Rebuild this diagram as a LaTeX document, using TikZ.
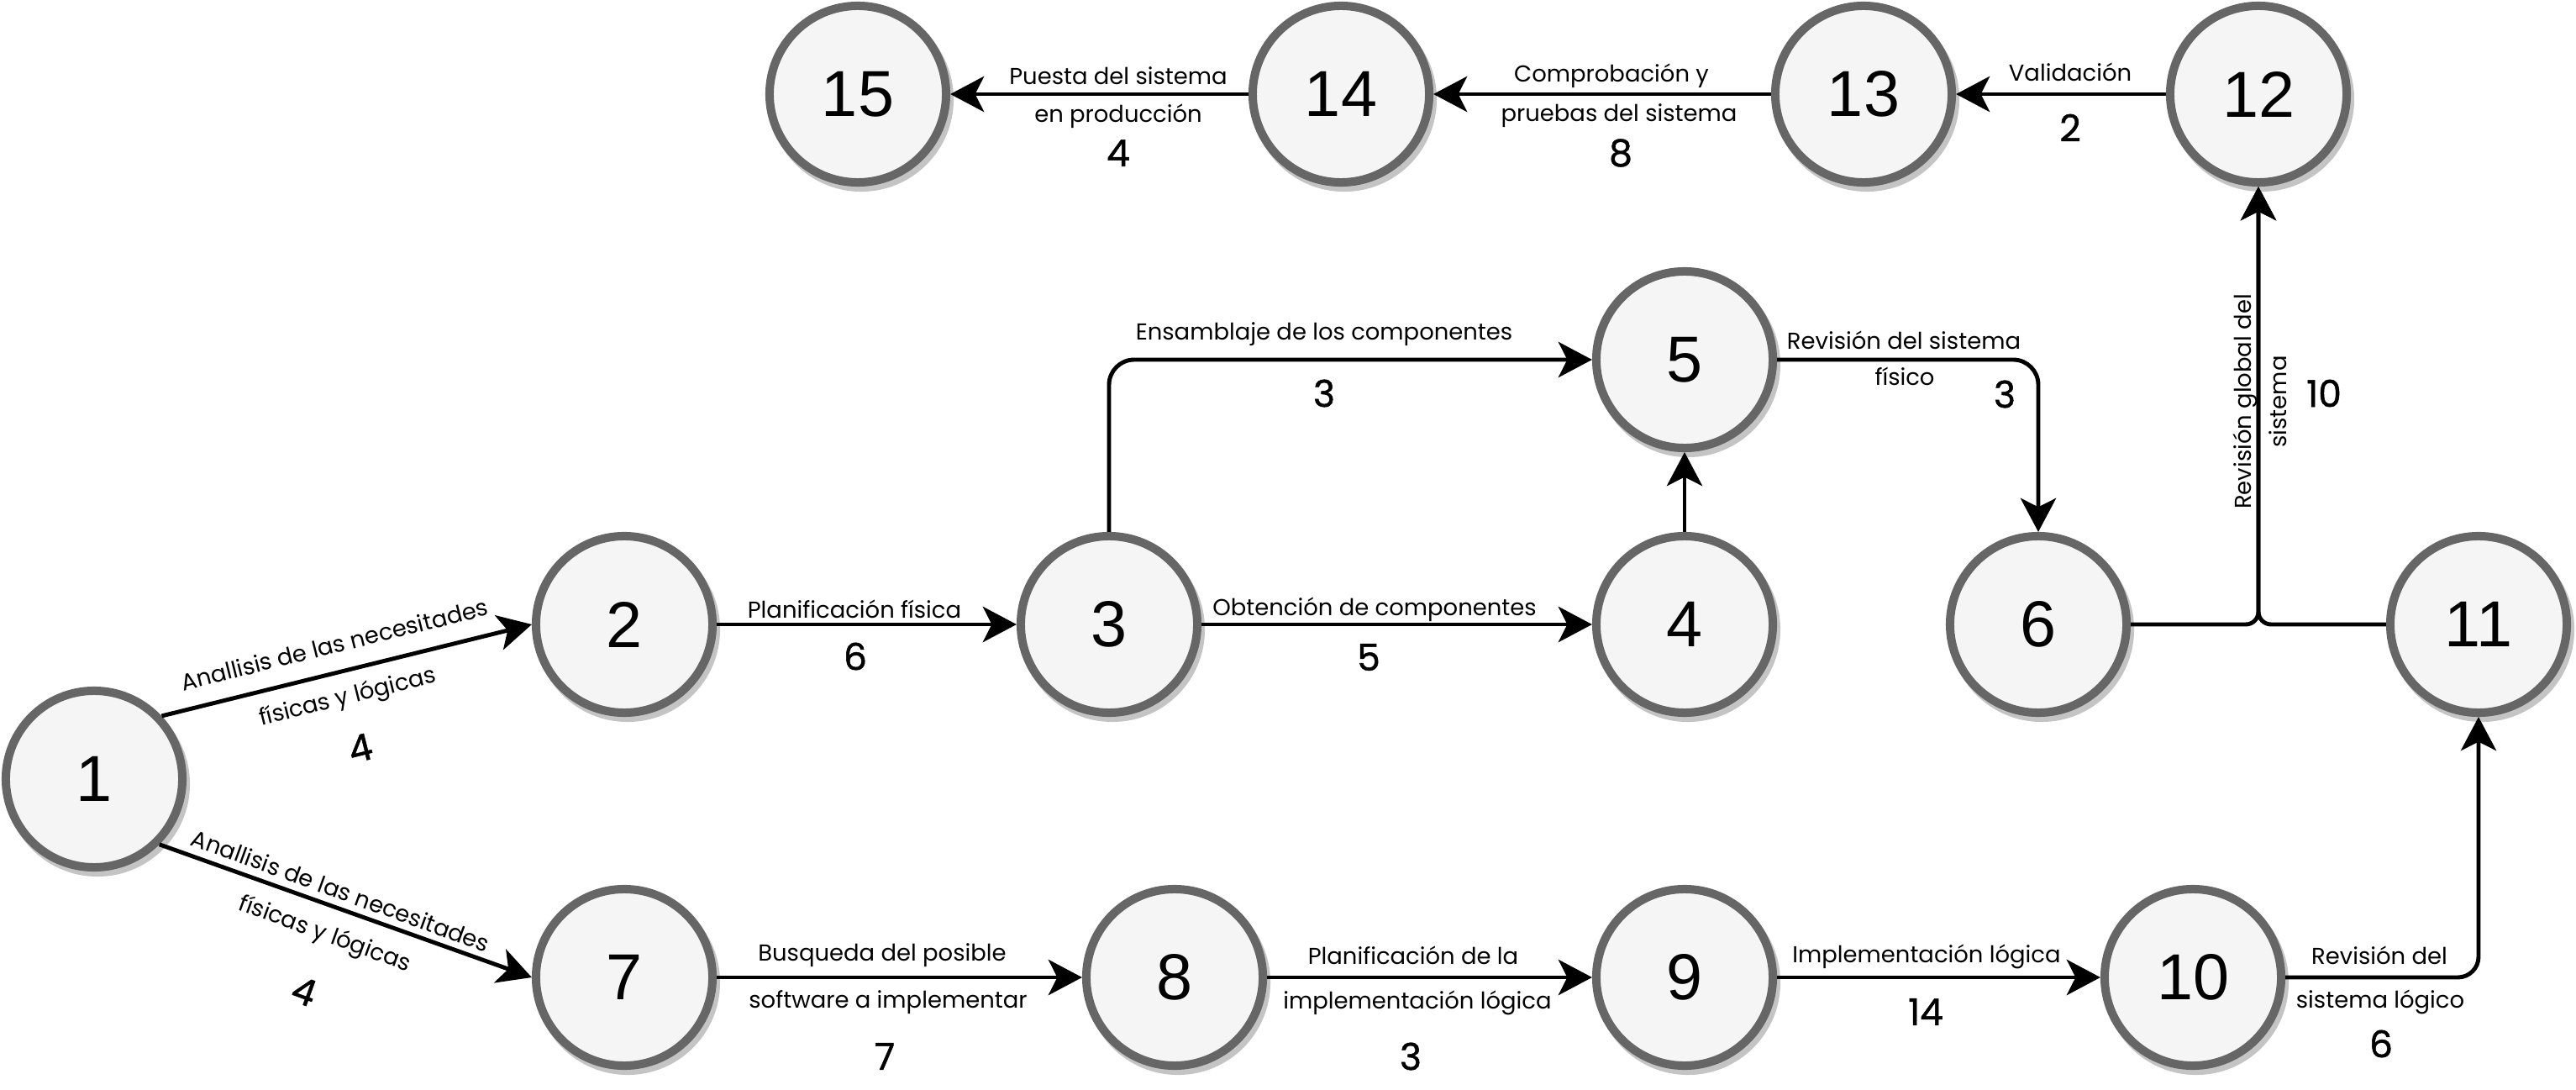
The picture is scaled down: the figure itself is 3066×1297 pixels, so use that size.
\documentclass[tikz,border=0pt]{standalone}
\usepackage{fontspec}
\setmainfont{Liberation Sans}
\newfontfamily\lblfont{Poppins}
\newfontfamily\wfont{Poppins}[FakeBold=1.2]
\usetikzlibrary{arrows.meta}
\definecolor{nodefill}{HTML}{F5F5F5}
\definecolor{nodestroke}{HTML}{666666}
\definecolor{shadowc}{HTML}{C4C4C4}
\newcommand{\wnum}[1]{{\wfont\fontsize{12.5}{14}\selectfont #1}}
\tikzset{
  state/.style={circle, draw=nodestroke, fill=nodefill, line width=2.85pt,
    minimum size=2.1cm, inner sep=0pt, font=\fontsize{22}{26}\selectfont},
  edge/.style={draw=black, line width=1.4pt,
    -{Stealth[length=11.4pt, width=12pt, inset=3pt]}},
  lbl/.style={inner sep=0pt, font=\lblfont\fontsize{7.8}{9}\selectfont},
  wt/.style={inner sep=0pt, font=\wfont\fontsize{12.5}{14}\selectfont},
}
\begin{document}
\begin{tikzpicture}[x=0.01cm, y=-0.01cm]
\useasboundingbox (0,0) rectangle (3066,1297);
% nodes with shadows
\foreach \nm/\px/\py in {1/112/927, 2/743/743, 3/1320/743, 4/2005/743,
    5/2005/428, 6/2426/743, 7/743/1163, 8/1398/1163, 9/2005/1163,
    10/2610/1163, 11/2950/743, 12/2688/112, 13/2218/112, 14/1596/112,
    15/1021/112}{
  \fill[shadowc] (\px+4,\py+6) circle (1.1cm);
  \node[state] (n\nm) at (\px,\py) {\nm};
}
% connectors
\draw[edge] (n1.43) -- (n2.west);
\draw[edge] (n1.-45) -- (n7.west);
\draw[edge] (n2.east) -- (n3.west);
\draw[edge] (n3.east) -- (n4.west);
\draw[edge, rounded corners=8.5pt] (n3.north) |- (n5.west);
\draw[edge] (n4.north) -- (n5.south);
\draw[edge, rounded corners=8.5pt] (n5.east) -| (n6.north);
\draw[edge, rounded corners=4.3pt] (n6.east) -| (n12.south);
\draw[edge, rounded corners=4.3pt] (n11.west) -| (n12.south);
\draw[edge] (n7.east) -- (n8.west);
\draw[edge] (n8.east) -- (n9.west);
\draw[edge] (n9.east) -- (n10.west);
\draw[edge, rounded corners=7pt] (n10.east) -| (n11.south);
\draw[edge] (n12.west) -- (n13.east);
\draw[edge] (n13.west) -- (n14.east);
\draw[edge] (n14.west) -- (n15.east);
% labels: top row
\node[lbl] (l1415a) at (1331,90) {Puesta del sistema};
\node[lbl] (l1415b) at (1331,138) {en producción};
\node[wt] (w1415) at (1331,182) {4};
\node[lbl] (l1314a) at (1918,90) {Comprobación y};
\node[lbl] (l1314b) at (1927,138) {pruebas del sistema};
\node[wt] (w1314) at (1929,182) {8};
\node[lbl] (l1213) at (2464,86) {Validación};
\node[wt] (w1213) at (2464,152) {2};
% labels: middle
\node[lbl] (l23) at (1017,725) {Planificación física};
\node[wt] (w23) at (1018,781) {6};
\node[lbl] (l34) at (1636,725) {Obtención de componentes};
\node[wt] (w34) at (1629,782) {5};
\node[lbl] (l35) at (1576,398) {Ensamblaje de los componentes};
\node[wt] (w35) at (1576,468) {3};
\node[lbl] (l56a) at (2266,405) {Revisión del sistema};
\node[lbl] (l56b) at (2267,448) {físico};
\node[wt] (w56) at (2386,469) {3};
\node[lbl, rotate=90, align=center, font=\lblfont\fontsize{7.8}{11.9}\selectfont]
  (l612) at (2690,478) {Revisión global del\\sistema};
\node[wt] (w612) at (2766,468) {10};
% labels: diagonals (text and weight in one rotated label)
\node[lbl, rotate=14, align=center, font=\lblfont\fontsize{7.8}{17.8}\selectfont]
  (l12) at (414,831) {Anallisis de las necesitades\\físicas y lógicas\\[2.1pt]\wnum{4}};
\node[lbl, rotate=-20, align=center, font=\lblfont\fontsize{7.8}{15.1}\selectfont]
  (l17) at (383,1122) {Anallisis de las necesitades\\físicas y lógicas\\[7.6pt]\wnum{4}};
% labels: bottom row
\node[lbl] (l78a) at (1050,1137) {Busqueda del posible};
\node[lbl] (l78b) at (1057,1193) {software a implementar};
\node[wt] (w78) at (1053,1257) {7};
\node[lbl] (l89a) at (1682,1137) {Planificación de la};
\node[lbl] (l89b) at (1687,1193) {implementación lógica};
\node[wt] (w89) at (1679,1257) {3};
\node[lbl] (l910) at (2293,1138) {Implementación lógica};
\node[wt] (w910) at (2292,1204) {14};
\node[lbl] (l1011a) at (2832,1137) {Revisión del};
\node[lbl] (l1011b) at (2833,1192) {sistema lógico};
\node[wt] (w1011) at (2834,1242) {6};
\end{tikzpicture}
\end{document}
